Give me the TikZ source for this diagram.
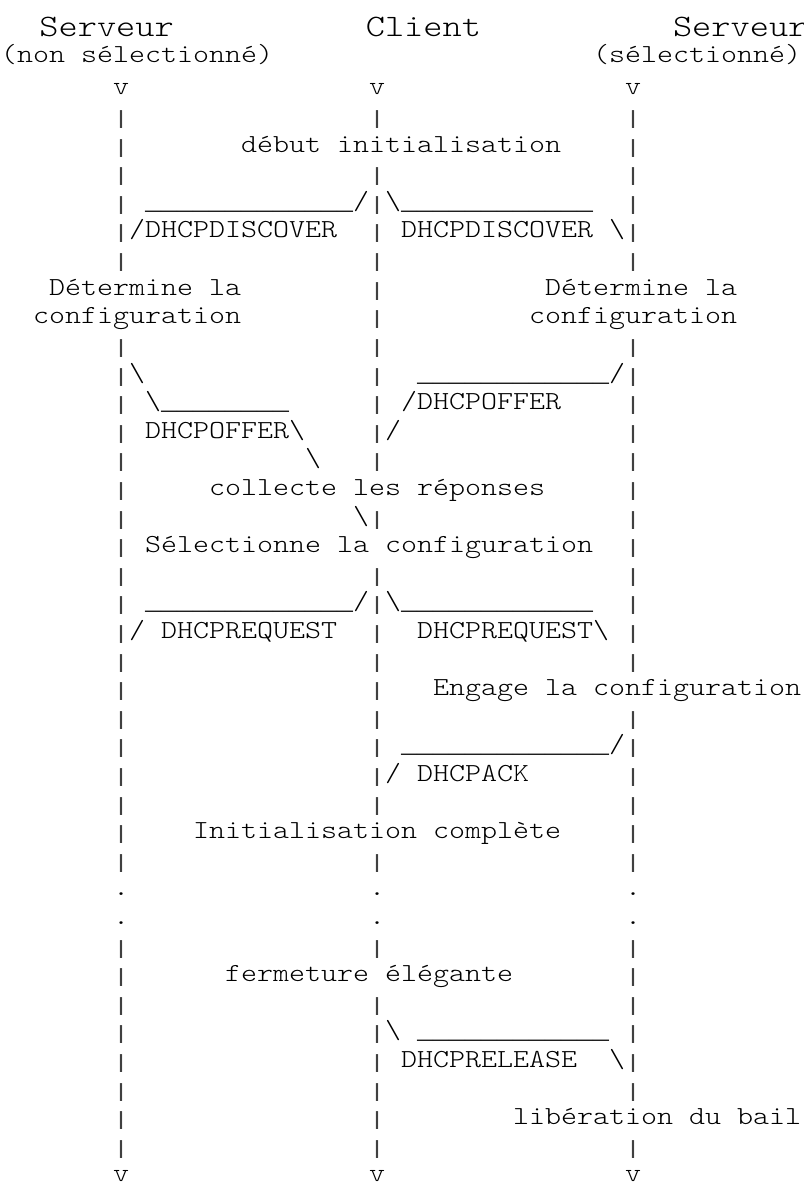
\documentclass[tikz,border=0pt]{standalone}
\usepackage{fontspec}
\usepackage{graphicx}
\newfontfamily\asciifont{lmmonolt10-regular.otf}[FakeStretch=1.1722]
\newfontfamily\gridfont{Liberation Mono}
\newcommand\gridsize{\gridfont\fontsize{26.67pt}{28pt}\selectfont}
\newcommand\unders[1]{{\gridsize\foreach\i in {1,...,#1}{\_}}}
\newcommand\vbar{{\gridsize\color{black!75}\raisebox{-1pt}{\scalebox{1}[0.72]{|}}}}
\tikzset{
  asc/.style={anchor=base west,inner sep=0pt,outer sep=0pt,
    font=\asciifont\fontsize{26pt}{28pt}\selectfont},
  head/.style={asc,font=\asciifont\fontsize{31.2pt}{34pt}\selectfont}
}

\begin{document}
\begin{tikzpicture}
\useasboundingbox (0pt,0pt) rectangle (803pt,-1182pt);
\node[head] (srvA) at (39.4pt,-37pt) {Serveur};
\node[head] (cli) at (365.8pt,-37pt) {Client};
\node[head] (srvB) at (673pt,-37pt) {Serveur};
\node[asc] (nsel) at (1pt,-63pt) {(non sélectionné)};
\node[asc] (sel) at (593pt,-63pt) {(sélectionné)};

\begin{scope}[x=16pt,y=-28.6pt,shift={(1pt,-9.2pt)}]
\foreach \c in {7,23,39} {
  \node[asc] (top\c) at (\c,3) {v};
  \node[asc] (dota\c) at (\c,31) {.};
  \node[asc] (dotb\c) at (\c,32) {.};
  \node[asc] (bot\c) at (\c,41) {v};
}
\foreach \r in {4,5,...,9,12,13,...,30,33,34,...,40}
  \node[asc] (a\r) at (7,\r) {\vbar};
\foreach \r in {4,6,7,...,16,18,20,21,...,28,30,33,35,36,...,40}
  \node[asc] (b\r) at (23,\r) {\vbar};
\foreach \r in {4,5,...,9,12,13,...,23,25,26,...,30,33,34,...,38,40}
  \node[asc] (c\r) at (39,\r) {\vbar};

\node[asc] (t5) at (15,5) {début initialisation};
\node[asc] (t7a) at (9,7) {\unders{13}/};
\node[asc] (t7b) at (24,7) {\textbackslash\unders{12}};
\node[asc] (t8a) at (8,8) {/DHCPDISCOVER};
\node[asc] (t8b) at (25,8) {DHCPDISCOVER \textbackslash};
\node[asc] (t10a) at (3,10) {Détermine la};
\node[asc] (t10b) at (34,10) {Détermine la};
\node[asc] (t11a) at (2,11) {configuration};
\node[asc] (t11b) at (33,11) {configuration};
\node[asc] (t13a) at (8,13) {\textbackslash};
\node[asc] (t13b) at (26,13) {\unders{12}/};
\node[asc] (t14a) at (9,14) {\textbackslash\unders{8}};
\node[asc] (t14b) at (25,14) {/DHCPOFFER};
\node[asc] (t15a) at (9,15) {DHCPOFFER\textbackslash};
\node[asc] (t15b) at (24,15) {/};
\node[asc] (t16) at (19,16) {\textbackslash};
\node[asc] (t17) at (13,17) {collecte les réponses};
\node[asc] (t18) at (22,18) {\textbackslash};
\node[asc] (t19) at (9,19) {Sélectionne la configuration};
\node[asc] (t21a) at (9,21) {\unders{13}/};
\node[asc] (t21b) at (24,21) {\textbackslash\unders{12}};
\node[asc] (t22a) at (8,22) {/ DHCPREQUEST};
\node[asc] (t22b) at (26,22) {DHCPREQUEST\textbackslash};
\node[asc] (t24) at (27,24) {Engage la configuration};
\node[asc] (t26) at (25,26) {\unders{13}/};
\node[asc] (t27) at (24,27) {/ DHCPACK};
\node[asc] (t29) at (12,29) {Initialisation complète};
\node[asc] (t34) at (14,34) {fermeture élégante};
\node[asc] (t36) at (24,36) {\textbackslash{} \unders{12}};
\node[asc] (t37a) at (25,37) {DHCPRELEASE};
\node[asc] (t37b) at (38,37) {\textbackslash};
\node[asc] (t39) at (32,39) {libération du bail};
\end{scope}
\end{tikzpicture}
\end{document}
